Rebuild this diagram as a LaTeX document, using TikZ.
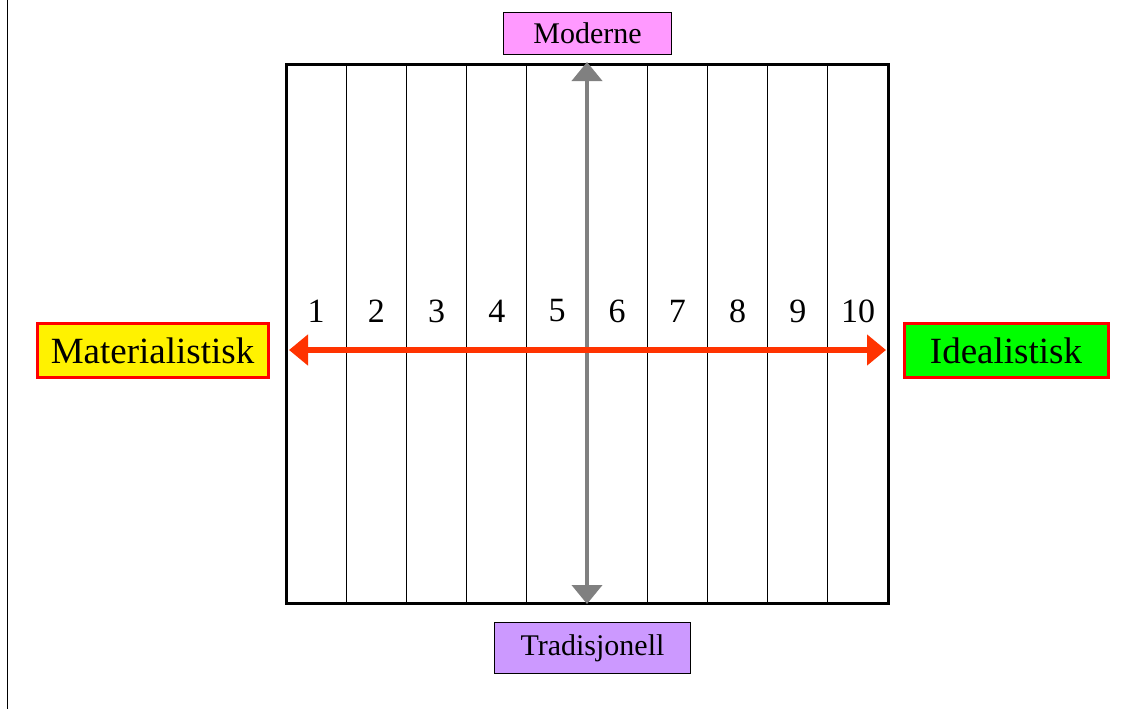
\documentclass[tikz,border=0pt]{standalone}
\usepackage{fontspec}
\setmainfont{Liberation Serif}
\usetikzlibrary{arrows.meta}

\definecolor{modpink}{RGB}{255,153,255}
\definecolor{tradlilac}{RGB}{204,153,255}
\definecolor{axisred}{RGB}{255,51,0}

\begin{document}
\begin{tikzpicture}[
            x=1pt, y=-1pt,
            label/.style={
              draw,
              line width=1.2pt,
              inner sep=0pt,
              font=\fontsize{30}{36}\selectfont,
            },
            pole/.style={
              draw=red,
              line width=3pt,
              inner sep=0pt,
              minimum height=54pt,
              font=\fontsize{37}{44}\selectfont,
            },
            num/.style={font=\fontsize{34}{40}\selectfont, inner sep=0pt},
            >={Triangle[length=19pt, width=30pt]},
          ]
          \useasboundingbox (0,0) rectangle (1124,709);
          \draw[line width=1.5pt] (7.5,0) -- (7.5,709);
          % the scale
          \coordinate (nw) at (286,65) ;
          \coordinate (se) at (888,603) ;
          \foreach \i in {1,...,9} {
            \draw[line width=1.3pt] (286+60.2*\i,65) -- (286+60.2*\i,603) ;
          }
          \foreach \i in {1,...,10} {
            \node[num] (n\i) at (256+60.2*\i,311) {\i} ;
          }
          \draw[line width=3pt] (nw) rectangle (se) ;
          % axes
          \coordinate (top) at (587,62) ;
          \coordinate (bot) at (587,604) ;
          \coordinate (west) at (289,350) ;
          \coordinate (east) at (886,350) ;
          \draw[<->, gray, line width=4pt] (top) -- (bot) ;
          \draw[<->, axisred, line width=6.5pt] (west) -- (east) ;
          % end labels
          \node[label, fill=modpink, minimum width=168pt, minimum height=42pt] (mod) at (587.5,33.5) {Moderne} ;
          \node[label, fill=tradlilac, minimum width=196pt, minimum height=51pt] (trad) at (592.5,648) {Tradisjonell} ;
          \node[pole, fill=yellow, minimum width=231pt] (mat) at (152.5,350.5) {Materialistisk} ;
          \node[pole, fill=green, minimum width=204pt] (ide) at (1006,350.5) {Idealistisk} ;
          \end{tikzpicture}
\end{document}
